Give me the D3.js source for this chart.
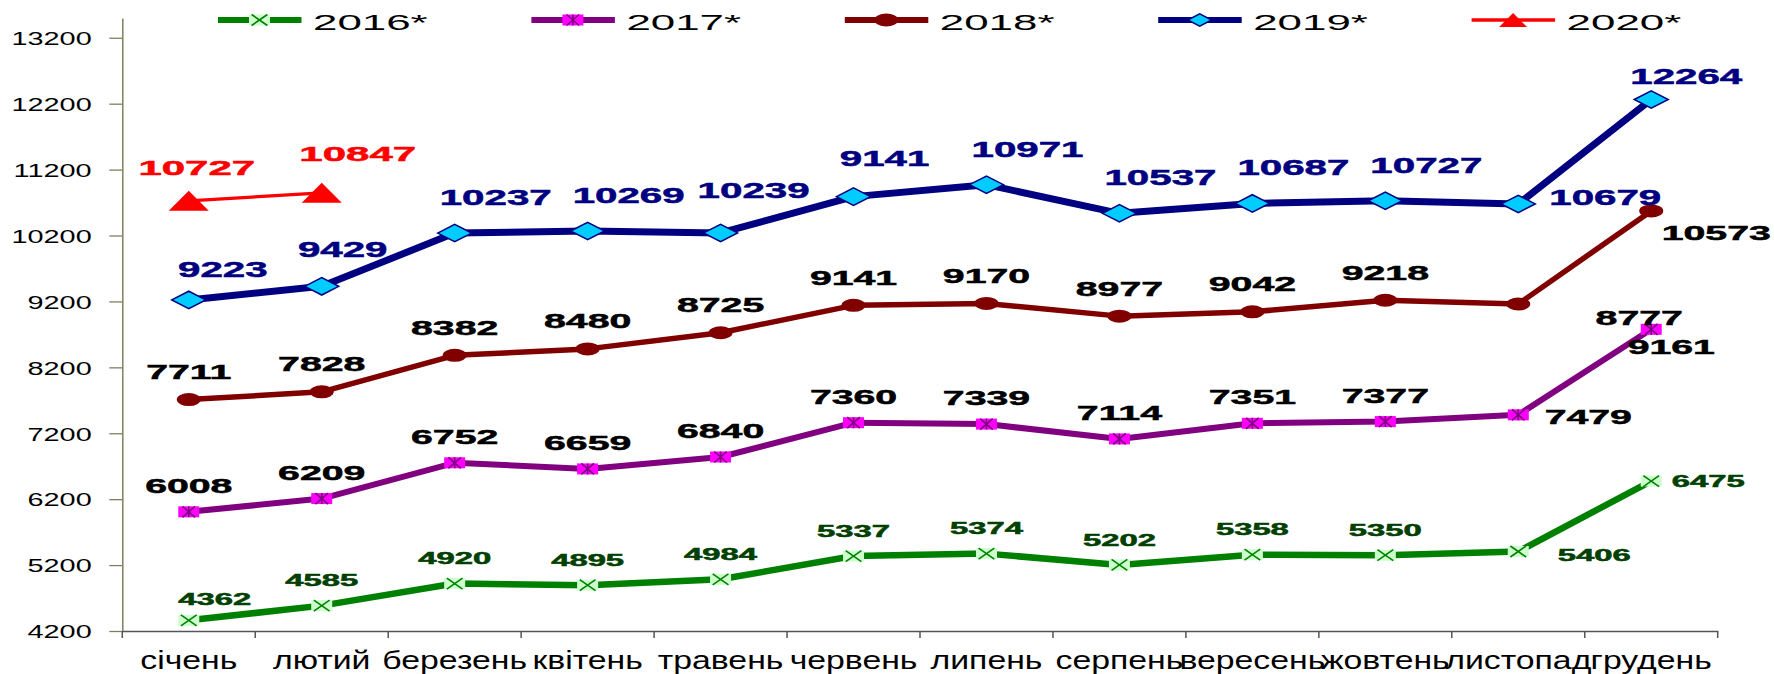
<!DOCTYPE html>
<html>
<head>
<meta charset="utf-8">
<script src="https://cdn.jsdelivr.net/npm/d3@7"></script>
<style>
  body { margin: 0; background: #fff; }
  svg { display: block; font-family: "Liberation Sans", Arial, sans-serif; }
</style>
</head>
<body>
<svg id="chart" width="1774" height="674"></svg>
<script>
// months on the x axis
const months = ["січень", "лютий", "березень", "квітень", "травень", "червень",
  "липень", "серпень", "вересень", "жовтень", "листопад", "грудень"];
const yTicks = [4200, 5200, 6200, 7200, 8200, 9200, 10200, 11200, 12200, 13200];

const v2016 = [4362, 4585, 4920, 4895, 4984, 5337, 5374, 5202, 5358, 5350, 5406, 6475];
const v2017 = [6008, 6209, 6752, 6659, 6840, 7360, 7339, 7114, 7351, 7377, 7479, 8777];
const v2018 = [7711, 7828, 8382, 8480, 8725, 9141, 9170, 8977, 9042, 9218, 9161, 10573];
const v2019 = [9223, 9429, 10237, 10269, 10239, 10790, 10971, 10537, 10687, 10727, 10679, 12264];
const v2020 = [10727, 10847];

// data labels as printed on the source chart (June 2019 carries a wrong label there)
const lab2016 = v2016.map(String);
const lab2017 = v2017.map(String);
const lab2018 = v2018.map(String);
const lab2019 = ["9223", "9429", "10237", "10269", "10239", "9141", "10971", "10537", "10687", "10727", "10679", "12264"];
const lab2020 = v2020.map(String);

const seriesNames = ["2016*", "2017*", "2018*", "2019*", "2020*"];

const svg = d3.select("#chart");

const x = d3.scaleBand().domain(months).range([122.3, 1717.7]);
const y = d3.scaleLinear().domain([4200, 13500]).range([631, 18]);
const cx = m => x(m) + x.bandwidth() / 2;

// style for each series
const cfg = {
  "2016*": {values: v2016, labels: lab2016, line: "#008000", width: 6.5, marker: "xbox",
            lab: {size: 16, sx: 2.05, color: "#004000"}, def: [0, -25],
            nudge: {0: [26, -21], 10: [76, 4], 11: [57, 0]}},
  "2017*": {values: v2017, labels: lab2017, line: "#800080", width: 6, marker: "star",
            lab: {size: 21, sx: 1.87, color: "#000"}, def: [0, -26.5],
            nudge: {10: [70, 2], 11: [-12, -12]}},
  "2018*": {values: v2018, labels: lab2018, line: "#800000", width: 5.5, marker: "circle",
            lab: {size: 21, sx: 1.87, color: "#000"}, def: [0, -28],
            nudge: {10: [153, 42], 11: [65, 22]}},
  "2019*": {values: v2019, labels: lab2019, line: "#000080", width: 7, marker: "diamond",
            lab: {size: 22, sx: 1.83, color: "#000080"}, def: [41, -36],
            nudge: {0: [34, -31], 1: [21, -37], 4: [33, -43], 5: [31, -39], 10: [87, -7], 11: [35, -23]}},
  "2020*": {values: v2020, labels: lab2020, line: "#ff0000", width: 3.3, marker: "triangle",
            lab: {size: 21, sx: 2.0, color: "#ff0000"}, def: [0, -35],
            nudge: {0: [8, -33], 1: [36, -39]}}
};

function drawMarker(g, type, px, py, k) {
  if (type === "xbox") {
    const w = 10.5 * k, h = 5.5 * k;
    g.append("rect").attr("x", px - w).attr("y", py - h).attr("width", 2 * w).attr("height", 2 * h)
      .attr("fill", "#ccffcc");
    g.append("path").attr("d", `M${px - w * 0.75},${py - h}L${px + w * 0.75},${py + h}M${px + w * 0.75},${py - h}L${px - w * 0.75},${py + h}`)
      .attr("stroke", "#008000").attr("stroke-width", 1.6).attr("fill", "none");
  } else if (type === "star") {
    const w = 10.5 * k, h = 5.5 * k;
    g.append("rect").attr("x", px - w).attr("y", py - h).attr("width", 2 * w).attr("height", 2 * h)
      .attr("fill", "#ff00ff");
    g.append("path").attr("d", `M${px - w * 0.6},${py - h}L${px + w * 0.6},${py + h}M${px + w * 0.6},${py - h}L${px - w * 0.6},${py + h}M${px},${py - h}L${px},${py + h}`)
      .attr("stroke", "#800080").attr("stroke-width", 1.6).attr("fill", "none");
  } else if (type === "circle") {
    g.append("ellipse").attr("cx", px).attr("cy", py).attr("rx", 12 * k).attr("ry", 6.5 * k)
      .attr("fill", "#800000");
  } else if (type === "diamond") {
    const w = 17 * k, h = 8.7 * k;
    g.append("path").attr("d", `M${px - w},${py}L${px},${py - h}L${px + w},${py}L${px},${py + h}Z`)
      .attr("fill", "#00ccff").attr("stroke", "#000080").attr("stroke-width", 1.5);
  } else if (type === "triangle") {
    const w = 20 * k, h = 10 * k;
    g.append("path").attr("d", `M${px - w},${py + h}L${px},${py - h}L${px + w},${py + h}Z`)
      .attr("fill", "#ff0000");
  }
}

// y axis
const yAxis = svg.append("g")
  .attr("transform", "translate(122.3,0)")
  .call(d3.axisLeft(y).tickValues(yTicks).tickSize(13).tickSizeOuter(0).tickFormat(d3.format("d")));
yAxis.select(".domain").attr("stroke", "#7f7f5f").attr("stroke-width", 1.5);
yAxis.selectAll(".tick line").attr("stroke", "#7f7f5f").attr("stroke-width", 1.3);
yAxis.selectAll(".tick text")
  .attr("x", null).attr("dy", null)
  .attr("transform", "translate(-30.6,6.8) scale(1.52,1)")
  .attr("font-size", 19).attr("fill", "#000").attr("text-anchor", "end");

// x axis
const xAxis = svg.append("g")
  .attr("transform", "translate(0,631)")
  .call(d3.axisBottom(x).tickSize(0).tickSizeOuter(0));
xAxis.select(".domain").attr("stroke", "#555").attr("stroke-width", 1.5);
xAxis.selectAll(".tick text")
  .attr("y", null).attr("dy", null)
  .attr("transform", "translate(0,38) scale(1.3,1)")
  .attr("font-size", 26).attr("fill", "#000");
xAxis.selectAll("line.sep")
  .data(d3.range(months.length + 1))
  .join("line")
  .attr("class", "sep")
  .attr("x1", i => x.range()[0] + i * x.step())
  .attr("x2", i => x.range()[0] + i * x.step())
  .attr("y1", 0).attr("y2", 7)
  .attr("stroke", "#555").attr("stroke-width", 1.5);

// lines and markers
const plot = svg.append("g");
seriesNames.forEach(name => {
  const s = cfg[name];
  const pts = s.values.map((v, i) => [cx(months[i]), y(v)]);
  plot.append("path")
    .attr("d", d3.line()(pts))
    .attr("fill", "none")
    .attr("stroke", s.line)
    .attr("stroke-width", s.width)
    .attr("stroke-linejoin", "round");
  const mg = plot.append("g");
  pts.forEach(p => drawMarker(mg, s.marker, p[0], p[1], 1));
});

// data labels
const labG = svg.append("g");
seriesNames.forEach(name => {
  const s = cfg[name];
  s.values.forEach((v, i) => {
    const [dx, dy] = s.nudge[i] || s.def;
    const px = cx(months[i]) + dx;
    const py = y(v) + dy + s.lab.size * 0.36;
    labG.append("text")
      .attr("transform", `translate(${px},${py}) scale(${s.lab.sx},1)`)
      .attr("text-anchor", "middle")
      .attr("font-weight", "bold")
      .attr("font-size", s.lab.size)
      .attr("fill", s.lab.color)
      .attr("stroke", s.lab.color)
      .attr("stroke-width", 0.5)
      .text(s.labels[i]);
  });
});

// legend
const legend = svg.append("g");
seriesNames.forEach((name, i) => {
  const s = cfg[name];
  const x0 = 218 + i * 313.4;
  const g = legend.append("g");
  g.append("line")
    .attr("x1", x0).attr("x2", x0 + 83.5)
    .attr("y1", 20).attr("y2", 20)
    .attr("stroke", s.line)
    .attr("stroke-width", name === "2020*" ? 3.3 : 6);
  const k = (s.marker === "diamond" || s.marker === "triangle") ? 0.7 : 1;
  drawMarker(g, s.marker, x0 + 41.5, 20, k);
  g.append("text")
    .attr("transform", `translate(${x0 + 95},30) scale(1.95,1)`)
    .attr("font-size", 22.5)
    .attr("fill", "#000")
    .text(name);
});
</script>
</body>
</html>
